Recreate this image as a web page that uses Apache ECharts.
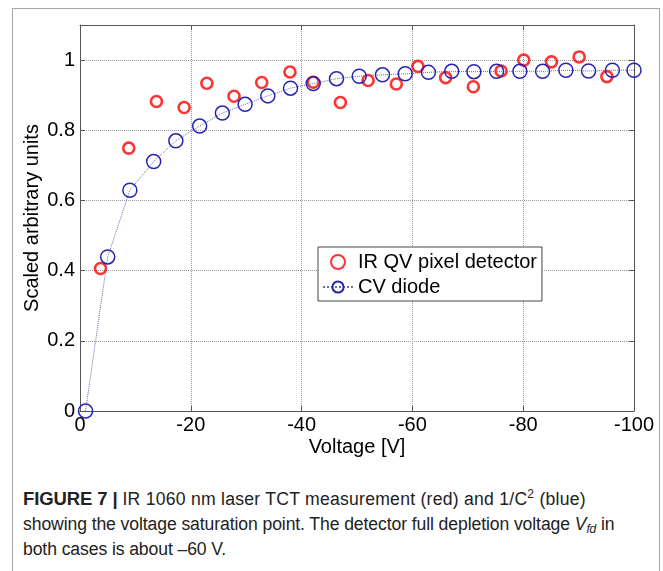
<!DOCTYPE html>
<html>
<head>
<meta charset="utf-8">
<script src="https://cdn.jsdelivr.net/npm/echarts@6/dist/echarts.min.js"></script>
<style>
  body { margin: 0; background: #fff; }
  .wrap { position: relative; width: 663px; height: 571px; overflow: hidden; }
  .frame {
    position: absolute; left: 12px; top: 8px; width: 648px; height: 620px;
    border: 1.5px solid #a6a6a6; box-sizing: border-box;
  }
  #chart { position: absolute; left: 0; top: 0; width: 663px; height: 470px; }
  .caption {
    position: absolute; left: 23px; top: 486px; width: 635px;
    font-family: "Liberation Sans", Arial, sans-serif;
    font-size: 17.6px; line-height: 25px; color: #222; white-space: nowrap;
    letter-spacing: -0.1px;
  }
  .caption b { font-weight: bold; font-size: 18.5px; }
  .caption .wide { letter-spacing: 0.25px; }
  .caption sup { font-size: 12px; line-height: 0; vertical-align: 7px; }
  .caption sub { font-size: 12px; line-height: 0; vertical-align: -3px; }
</style>
</head>
<body>
<div class="wrap">
  <div class="frame"></div>
  <div id="chart"></div>
  <div class="caption">
    <b>FIGURE 7 |</b> <span class="wide">IR 1060 nm laser TCT measurement (red) and 1/C<sup>2</sup> (blue)</span><br>
    showing the voltage saturation point. The detector full depletion voltage <i>V<sub>fd</sub></i> in<br>
    both cases is about –60 V.
  </div>
</div>
<script>
// IR QV pixel detector (red circles)
var irVoltage = [-3.7, -8.8, -13.8, -18.8, -22.9, -27.8, -32.8, -37.9, -42.1, -47,
  -52, -57.1, -61, -66, -71, -76, -80.1, -85.1, -90.1, -95.1];
var irValue = [0.406, 0.749, 0.882, 0.865, 0.934, 0.897, 0.936, 0.966, 0.937, 0.879,
  0.942, 0.932, 0.982, 0.95, 0.924, 0.969, 1.0, 0.995, 1.009, 0.953];

// CV diode (blue circles, dotted line)
var cvVoltage = [-1, -5, -9, -13.3, -17.3, -21.6, -25.7, -29.8, -33.9, -38, -42.1, -46.3,
  -50.4, -54.6, -58.7, -62.9, -67.1, -71.1, -75.2, -79.4, -83.5, -87.7, -91.8, -96.1, -100];
var cvValue = [0, 0.439, 0.629, 0.711, 0.77, 0.812, 0.849, 0.874, 0.898, 0.92, 0.933, 0.947,
  0.954, 0.958, 0.961, 0.965, 0.968, 0.967, 0.968, 0.968, 0.968, 0.971, 0.969, 0.971, 0.971];

var xTicks = [0, -20, -40, -60, -80, -100];
var yTicks = [0, 0.2, 0.4, 0.6, 0.8, 1];

var font = '"Liberation Sans", Arial, sans-serif';

function pairs(xs, ys) {
  return xs.map(function (x, i) { return [x, ys[i]]; });
}
function tickLabel(list) {
  return function (v) {
    for (var i = 0; i < list.length; i++) {
      if (Math.abs(list[i] - v) < 1e-6) return String(list[i]);
    }
    return '';
  };
}

var axisColor = '#555';
var baseX = {
  type: 'value', min: -100, max: 0, interval: 20, inverse: true,
  axisLine: { show: true, onZero: false, lineStyle: { color: axisColor, width: 1 } },
  axisTick: { show: true, inside: true, length: 5, lineStyle: { color: axisColor } },
  splitLine: { show: false }
};
var baseY = {
  type: 'value', min: 0, max: 1.1, interval: 0.2,
  axisLine: { show: true, onZero: false, lineStyle: { color: axisColor, width: 1 } },
  axisTick: { show: true, inside: true, length: 5, lineStyle: { color: axisColor } },
  splitLine: { show: false }
};

var myChart = echarts.init(document.getElementById('chart'));
var option = {
  animation: false,
  grid: { left: 80, top: 25, width: 554, height: 386, outerBoundsMode: 'none' },
  legend: {
    orient: 'vertical', left: 318, top: 247,
    padding: [5, 5, 4, 4], itemGap: 5, itemWidth: 30, itemHeight: 14,
    backgroundColor: '#fff', borderColor: '#444', borderWidth: 1,
    textStyle: { fontSize: 20, color: '#000', fontFamily: font },
    data: ['IR QV pixel detector', 'CV diode']
  },
  xAxis: [
    Object.assign({}, baseX, {
      position: 'bottom',
      name: 'Voltage [V]', nameLocation: 'middle', nameGap: 26, nameMoveOverlap: false,
      nameTextStyle: { fontSize: 20, color: '#000', fontFamily: font },
      axisLabel: { fontSize: 20, color: '#000', fontFamily: font, margin: 4, formatter: tickLabel(xTicks) },
      splitLine: { show: true, lineStyle: { color: '#999', type: 'dotted', width: 1 } }
    }),
    Object.assign({}, baseX, { position: 'top', axisLabel: { show: false } })
  ],
  yAxis: [
    Object.assign({}, baseY, {
      position: 'left',
      name: 'Scaled arbitrary units', nameLocation: 'middle', nameGap: 38, nameMoveOverlap: false,
      nameTextStyle: { fontSize: 20, color: '#000', fontFamily: font },
      axisLabel: { fontSize: 20, color: '#000', fontFamily: font, margin: 5, showMaxLabel: false, formatter: tickLabel(yTicks) },
      splitLine: { show: true, lineStyle: { color: '#999', type: 'dotted', width: 1 } }
    }),
    Object.assign({}, baseY, { position: 'right', axisLabel: { show: false } })
  ],
  series: [
    {
      name: 'IR QV pixel detector',
      type: 'scatter',
      symbol: 'circle',
      symbolSize: 11,
      itemStyle: { color: 'rgba(0,0,0,0)', borderColor: '#ff0000', borderWidth: 2.6 },
      data: pairs(irVoltage, irValue)
    },
    {
      name: 'CV diode',
      type: 'line',
      symbol: 'circle',
      symbolSize: 14,
      showAllSymbol: true,
      lineStyle: { color: '#6470a8', type: 'dotted', width: 1 },
      itemStyle: { color: 'rgba(0,0,0,0)', borderColor: '#2323b4', borderWidth: 1.5 },
      data: pairs(cvVoltage, cvValue)
    }
  ]
};
myChart.setOption(option);
</script>
</body>
</html>
